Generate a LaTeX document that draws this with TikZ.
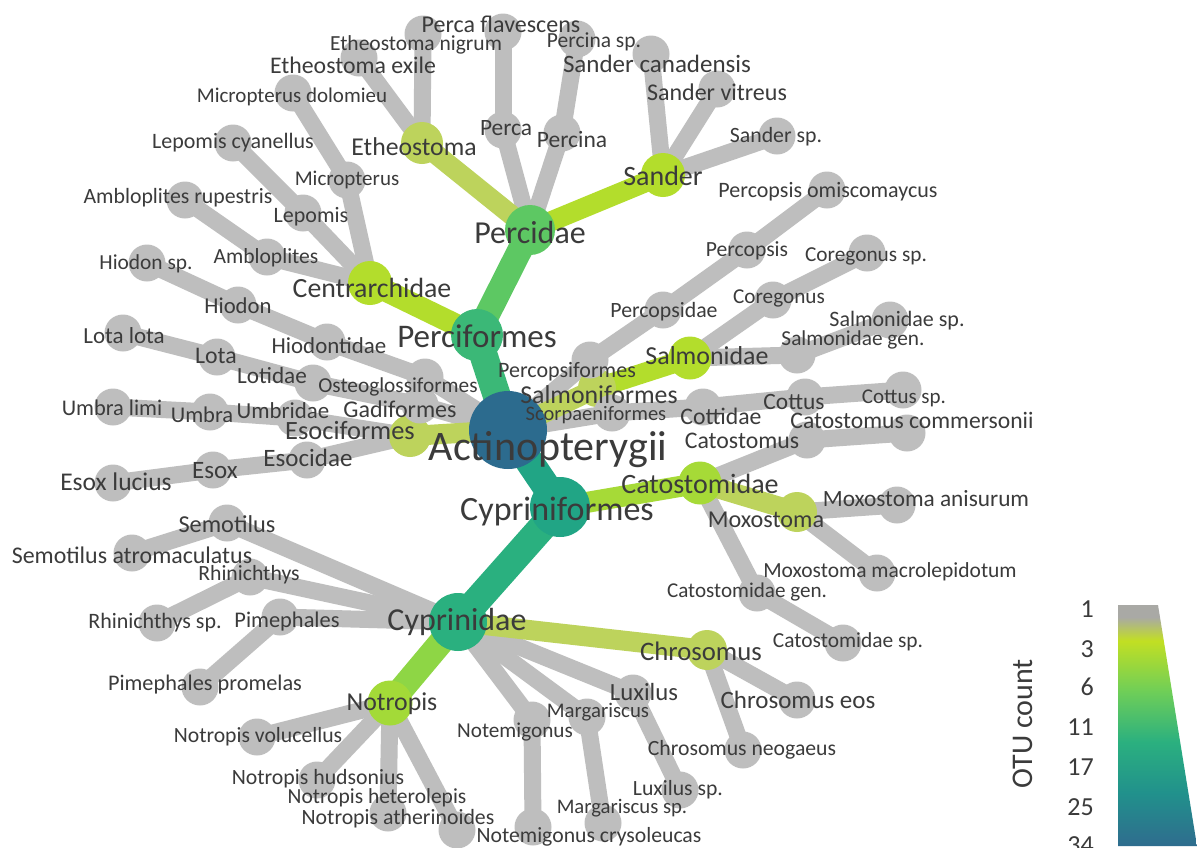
\documentclass[tikz,border=0pt]{standalone}
\usepackage{fontspec}
\setmainfont{Carlito}
\definecolor{cgray}{HTML}{BEBEBE}
\definecolor{ctext}{HTML}{3B3B3B}
\definecolor{cA}{HTML}{2C6B8E}
\definecolor{cPf}{HTML}{3BB877}
\definecolor{cCf}{HTML}{21A585}
\definecolor{cCy}{HTML}{2AB07F}
\definecolor{cPd}{HTML}{5DC863}
\definecolor{cyg}{HTML}{B3DD2C}
\definecolor{col}{HTML}{BDD35C}
\definecolor{cCat}{HTML}{A6DA37}
\definecolor{cN}{HTML}{A3DA38}
\definecolor{cNe}{HTML}{8ED645}
\definecolor{lgA}{HTML}{A9A9A5}
\definecolor{lgB}{HTML}{C2DF23}
\definecolor{lgC}{HTML}{6ECE58}
\definecolor{lgD}{HTML}{2BB07F}
\definecolor{lgE}{HTML}{21918C}
\definecolor{lgF}{HTML}{2F6C8E}
\pgfdeclareverticalshading{otu}{100bp}{color(0bp)=(lgF); color(25bp)=(lgF); color(36bp)=(lgE); color(46.6bp)=(lgD); color(57bp)=(lgC); color(67.6bp)=(lgB); color(72.5bp)=(lgA); color(100bp)=(lgA)}
\pgfdeclarelayer{bg}
\pgfdeclarelayer{edges}
\pgfsetlayers{bg,edges,main}
\tikzset{
  dot/.style={circle,inner sep=0pt,minimum size=#1},
  gdot/.style={dot=37pt,fill=cgray},
  gedge/.style={draw=cgray,line width=17pt,line cap=round},
  cedge/.style={line width=#1,line cap=round},
  lab/.style={anchor=base,inner sep=0pt,text=ctext,font=\fontsize{#1}{#1}\selectfont},
  leglab/.style={anchor=base east,inner sep=0pt,text=ctext,font=\fontsize{26}{26}\selectfont}
}
\begin{document}
\begin{tikzpicture}[x=1pt,y=-1pt]
\useasboundingbox (0,0) rectangle (1197,847);
\begin{pgfonlayer}{bg}
\fill[white] (0,0) rectangle (1197,847);
\end{pgfonlayer}
% coloured internal nodes
\node[dot=78pt,fill=cA] (A) at (508,430) {};
\node[dot=52pt,fill=cPf] (Pf) at (477,335) {};
\node[dot=60pt,fill=cCf] (Cf) at (560,507) {};
\node[dot=58pt,fill=cCy] (Cy) at (458,622) {};
\node[dot=50pt,fill=cPd] (Pd) at (530,230) {};
\node[dot=44pt,fill=cyg] (Ce) at (370,283) {};
\node[dot=44pt,fill=cyg] (Sa) at (663,175) {};
\node[dot=42pt,fill=col] (Et) at (422,143) {};
\node[dot=42pt,fill=col] (Eo) at (410,436) {};
\node[dot=38pt,fill=col] (So) at (597,388) {};
\node[dot=43pt,fill=cyg] (Sm) at (690,358) {};
\node[dot=43pt,fill=cCat] (Ca) at (700,483) {};
\node[dot=40pt,fill=col] (Mx) at (797,512) {};
\node[dot=40pt,fill=col] (Ch) at (707,650) {};
\node[dot=45pt,fill=cN] (No) at (390,703) {};
% grey internal nodes
\node[gdot] (Pc) at (503,130) {};
\node[gdot] (Pn) at (562,133) {};
\node[gdot] (Mi) at (347,180) {};
\node[gdot] (Le) at (303,213) {};
\node[gdot] (Am) at (267,257) {};
\node[gdot] (Hi) at (238,305) {};
\node[gdot] (Hd) at (327,342) {};
\node[gdot] (Os) at (425,377) {};
\node[gdot] (Lo) at (217,357) {};
\node[gdot] (Ld) at (313,383) {};
\node[gdot] (Ga) at (420,405) {};
\node[gdot] (Um) at (210,412) {};
\node[gdot] (Ud) at (295,418) {};
\node[gdot] (Ed) at (307,460) {};
\node[gdot] (Ex) at (213,470) {};
\node[gdot] (Po) at (590,360) {};
\node[gdot] (Pp) at (663,310) {};
\node[gdot] (Ps) at (747,250) {};
\node[gdot] (Co) at (773,300) {};
\node[gdot] (Sg) at (797,355) {};
\node[gdot] (Sc) at (612,413) {};
\node[gdot] (Ct) at (703,407) {};
\node[gdot] (Cu) at (805,397) {};
\node[gdot] (Cs) at (807,440) {};
\node[gdot] (Cg) at (757,593) {};
\node[gdot] (Se) at (227,523) {};
\node[gdot] (Rh) at (250,577) {};
\node[gdot] (Pi) at (280,617) {};
\node[gdot] (Nm) at (532,720) {};
\node[gdot] (Ma) at (587,717) {};
\node[gdot] (Lu) at (633,693) {};
% leaves
\node[gdot] (l1) at (503,32) {};
\node[gdot] (l2) at (423,34) {};
\node[gdot] (l3) at (359,58) {};
\node[gdot] (l4) at (577,39) {};
\node[gdot] (l5) at (651,54) {};
\node[gdot] (l6) at (717,89) {};
\node[gdot] (l7) at (777,136) {};
\node[gdot] (l8) at (293,93) {};
\node[gdot] (l9) at (233,143) {};
\node[gdot] (l10) at (185,200) {};
\node[gdot] (l11) at (147,263) {};
\node[gdot] (l12) at (123,333) {};
\node[gdot] (l13) at (113,407) {};
\node[gdot] (l14) at (113,483) {};
\node[gdot] (l15) at (827,190) {};
\node[gdot] (l16) at (867,253) {};
\node[gdot] (l17) at (890,320) {};
\node[gdot] (l18) at (903,390) {};
\node[gdot] (l19) at (907,433) {};
\node[gdot] (l20) at (897,505) {};
\node[gdot] (l21) at (877,573) {};
\node[gdot] (l22) at (843,643) {};
\node[gdot] (l23) at (797,700) {};
\node[gdot] (l24) at (743,750) {};
\node[gdot] (l25) at (680,790) {};
\node[gdot] (l26) at (603,823) {};
\node[gdot] (l27) at (533,827) {};
\node[gdot] (l28) at (257,737) {};
\node[gdot] (l29) at (317,780) {};
\node[gdot] (l30) at (388,813) {};
\node[gdot] (l31) at (457,830) {};
\node[gdot] (l32) at (132,553) {};
\node[gdot] (l33) at (157,623) {};
\node[gdot] (l34) at (200,687) {};
% edges
\begin{pgfonlayer}{edges}
\foreach \a/\b in {Pd/Pc,Pc/l1,Pd/Pn,Pn/l4,Et/l2,Et/l3,Sa/l5,Sa/l6,Sa/l7,Ce/Mi,Mi/l8,Ce/Le,Le/l9,Ce/Am,Am/l10,
  A/Os,Os/Hd,Hd/Hi,Hi/l11,A/Ga,Ga/Ld,Ld/Lo,Lo/l12,Eo/Ud,Ud/Um,Um/l13,Eo/Ed,Ed/Ex,Ex/l14,
  A/Po,Po/Pp,Pp/Ps,Ps/l15,Sm/Co,Co/l16,Sm/Sg,Sg/l17,A/Sc,Sc/Ct,Ct/Cu,Cu/l18,Ca/Cs,Cs/l19,
  Mx/l20,Mx/l21,Ca/Cg,Cg/l22,Ch/l23,Ch/l24,Cy/Lu,Lu/l25,Cy/Ma,Ma/l26,Cy/Nm,Nm/l27,
  No/l28,No/l29,No/l30,No/l31,Cy/Se,Se/l32,Cy/Rh,Rh/l33,Cy/Pi,Pi/l34}
  \draw[gedge] (\a.center) -- (\b.center);
\draw[cedge=20pt,draw=col] (A.center) -- (Eo.center);
\draw[cedge=20pt,draw=col] (A.center) -- (So.center);
\draw[cedge=20pt,draw=cyg] (So.center) -- (Sm.center);
\draw[cedge=20pt,draw=col] (Pd.center) -- (Et.center);
\draw[cedge=20pt,draw=cyg] (Pd.center) -- (Sa.center);
\draw[cedge=22pt,draw=cyg] (Pf.center) -- (Ce.center);
\draw[cedge=25pt,draw=cPd] (Pf.center) -- (Pd.center);
\draw[cedge=28pt,draw=cPf] (A.center) -- (Pf.center);
\draw[cedge=20pt,draw=col] (Ca.center) -- (Mx.center);
\draw[cedge=20pt,draw=col] (Cy.center) -- (Ch.center);
\draw[cedge=25pt,draw=cNe] (Cy.center) -- (No.center);
\draw[cedge=21pt,draw=cCat] (Cf.center) -- (Ca.center);
\draw[cedge=28pt,draw=cCy] (Cf.center) -- (Cy.center);
\draw[cedge=28pt,draw=cCf] (A.center) -- (Cf.center);
\end{pgfonlayer}
% labels
\node[lab=24] (t1) at (501,32) {Perca flavescens};
\node[lab=21.5] (t2) at (416,50) {Etheostoma nigrum};
\node[lab=23.8] (t3) at (353,73) {Etheostoma exile};
\node[lab=21] (t4) at (292,102) {Micropterus dolomieu};
\node[lab=21.5] (t5) at (594,47) {Percina sp.};
\node[lab=25] (t6) at (657,72) {Sander canadensis};
\node[lab=24] (t7) at (717,100) {Sander vitreus};
\node[lab=21.8] (t8) at (776,142) {Sander sp.};
\node[lab=23.4] (t9) at (506,135) {Perca};
\node[lab=23.5] (t10) at (572,147) {Percina};
\node[lab=25.7] (t11) at (414,155) {Etheostoma};
\node[lab=28] (t12) at (663,185) {Sander};
\node[lab=32] (t13) at (530,243) {Percidae};
\node[lab=22] (t14) at (233,148) {Lepomis cyanellus};
\node[lab=21] (t15) at (347,185) {Micropterus};
\node[lab=21.8] (t16) at (178,203) {Ambloplites rupestris};
\node[lab=22] (t17) at (311,222) {Lepomis};
\node[lab=21.4] (t18) at (146,269) {Hiodon sp.};
\node[lab=21.6] (t19) at (266,263) {Ambloplites};
\node[lab=27.8] (t20) at (372,297) {Centrarchidae};
\node[lab=33] (t21) at (477,347) {Perciformes};
\node[lab=22.7] (t22) at (238,313) {Hiodon};
\node[lab=23] (t23) at (124,343) {Lota lota};
\node[lab=23.8] (t24) at (216,363) {Lota};
\node[lab=22.9] (t25) at (329,353) {Hiodontidae};
\node[lab=23.2] (t26) at (272,383) {Lotidae};
\node[lab=21.3] (t27) at (398,392) {Osteoglossiformes};
\node[lab=22.4] (t28) at (112,415) {Umbra limi};
\node[lab=22.5] (t29) at (202,422) {Umbra};
\node[lab=22.9] (t30) at (283,418) {Umbridae};
\node[lab=24] (t31) at (400,417) {Gadiformes};
\node[lab=26.4] (t32) at (350,439) {Esociformes};
\node[lab=25] (t33) at (308,466) {Esocidae};
\node[lab=25] (t34) at (215,478) {Esox};
\node[lab=25.5] (t35) at (116,490) {Esox lucius};
\node[lab=42] (t36) at (548,460) {Actinopterygii};
\node[lab=22] (t37) at (567,377) {Percopsiformes};
\node[lab=25.8] (t38) at (599,403) {Salmoniformes};
\node[lab=20.5] (t39) at (596,420) {Scorpaeniformes};
\node[lab=34] (t40) at (557,520) {Cypriniformes};
\node[lab=28] (t41) at (700,493) {Catostomidae};
\node[lab=22] (t42) at (828,197) {Percopsis omiscomaycus};
\node[lab=21.6] (t43) at (747,256) {Percopsis};
\node[lab=21.3] (t44) at (866,261) {Coregonus sp.};
\node[lab=21.8] (t45) at (664,317) {Percopsidae};
\node[lab=21.2] (t46) at (779,303) {Coregonus};
\node[lab=22] (t47) at (897,326) {Salmonidae sp.};
\node[lab=21.3] (t48) at (853,345) {Salmonidae gen.};
\node[lab=25.9] (t49) at (707,364) {Salmonidae};
\node[lab=23.4] (t50) at (794,409) {Cottus};
\node[lab=21] (t51) at (904,403) {Cottus sp.};
\node[lab=23.7] (t52) at (721,424) {Cottidae};
\node[lab=23.6] (t53) at (912,428) {Catostomus commersonii};
\node[lab=23.8] (t54) at (742,448) {Catostomus};
\node[lab=23.3] (t55) at (926,506) {Moxostoma anisurum};
\node[lab=24.2] (t56) at (766,527) {Moxostoma};
\node[lab=21.5] (t57) at (890,577) {Moxostoma macrolepidotum};
\node[lab=21.1] (t58) at (747,597) {Catostomidae gen.};
\node[lab=21.4] (t59) at (848,647) {Catostomidae sp.};
\node[lab=26.7] (t60) at (701,660) {Chrosomus};
\node[lab=25] (t61) at (798,708) {Chrosomus eos};
\node[lab=21.7] (t62) at (742,755) {Chrosomus neogaeus};
\node[lab=24.7] (t63) at (644,700) {Luxilus};
\node[lab=20.8] (t64) at (598,717) {Margariscus};
\node[lab=21.2] (t65) at (515,737) {Notemigonus};
\node[lab=21.7] (t66) at (678,795) {Luxilus sp.};
\node[lab=20.7] (t67) at (622,813) {Margariscus sp.};
\node[lab=21.7] (t68) at (589,842) {Notemigonus crysoleucas};
\node[lab=32] (t69) at (457,630) {Cyprinidae};
\node[lab=25.8] (t70) at (392,710) {Notropis};
\node[lab=21.7] (t71) at (258,742) {Notropis volucellus};
\node[lab=21.8] (t72) at (318,784) {Notropis hudsonius};
\node[lab=21.5] (t73) at (377,803) {Notropis heterolepis};
\node[lab=21.8] (t74) at (398,824) {Notropis atherinoides};
\node[lab=24.3] (t75) at (227,532) {Semotilus};
\node[lab=23.9] (t76) at (132,563) {Semotilus atromaculatus};
\node[lab=21.7] (t77) at (249,580) {Rhinichthys};
\node[lab=22] (t78) at (155,628) {Rhinichthys sp.};
\node[lab=22.4] (t79) at (287,627) {Pimephales};
\node[lab=22.3] (t80) at (205,690) {Pimephales promelas};
% legend
\shade[shading=otu] (1118,605) -- (1158,605) -- (1197,846) -- (1118,846) -- cycle;
\node[leglab] (g1) at (1094,617) {1};
\node[leglab] (g3) at (1094,657) {3};
\node[leglab] (g6) at (1094,695) {6};
\node[leglab] (g11) at (1094,735) {11};
\node[leglab] (g17) at (1094,775) {17};
\node[leglab] (g25) at (1094,815) {25};
\node[leglab] (g34) at (1094,853) {34};
\node[inner sep=0pt,text=ctext,font=\fontsize{30}{30}\selectfont,rotate=90] (otu) at (1023,724) {OTU count};
\end{tikzpicture}
\end{document}
